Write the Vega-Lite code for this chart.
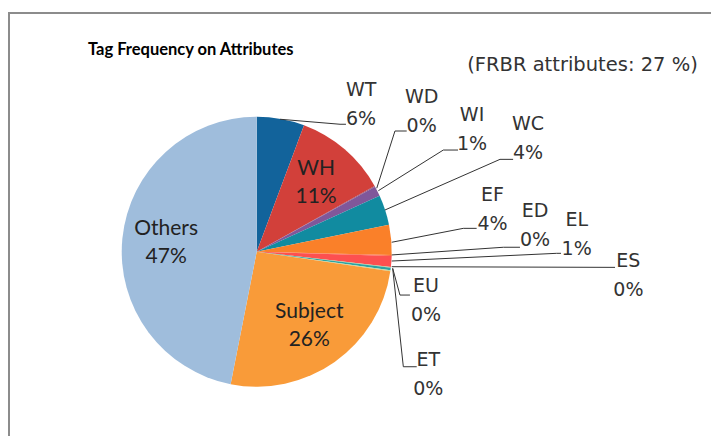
{
  "$schema": "https://vega.github.io/schema/vega-lite/v6.json",
  "autosize": "none",
  "width": 707,
  "height": 428,
  "padding": {"left": 9, "top": 13, "right": -5, "bottom": -5},
  "background": "white",
  "view": {"stroke": "#8c8c8c", "strokeWidth": 2},
  "title": {
    "text": "Tag Frequency on Attributes",
    "anchor": "start",
    "frame": "group",
    "font": "Lato",
    "fontWeight": "bold",
    "fontSize": 16.5,
    "color": "#000000",
    "offset": 0,
    "baseline": "alphabetic",
    "dx": 79,
    "dy": 58
  },
  "datasets": {
    "slices": [
      {"k": 1, "name": "WT", "value": 5.7},
      {"k": 2, "name": "WH", "value": 11.2},
      {"k": 3, "name": "WD", "value": 0.1},
      {"k": 4, "name": "WI", "value": 1.2},
      {"k": 5, "name": "WC", "value": 3.6},
      {"k": 6, "name": "EF", "value": 3.6},
      {"k": 7, "name": "ED", "value": 0.1},
      {"k": 8, "name": "EL", "value": 1.3},
      {"k": 9, "name": "ES", "value": 0.1},
      {"k": 10, "name": "EU", "value": 0.3},
      {"k": 11, "name": "ET", "value": 0.1},
      {"k": 12, "name": "Subject", "value": 25.8},
      {"k": 13, "name": "Others", "value": 46.9}
    ],
    "labels": [
      {"name": "WT", "lx": 77.3, "ly": 109.0},
      {"name": "WD", "lx": 122.2, "ly": 103.7},
      {"name": "WI", "lx": 159.5, "ly": 90.7},
      {"name": "WC", "lx": 201.0, "ly": 84.2},
      {"name": "EF", "lx": 174.7, "ly": 31.5},
      {"name": "ED", "lx": 206.1, "ly": 19.1},
      {"name": "EL", "lx": 237.0, "ly": 13.0},
      {"name": "ES", "lx": 275.3, "ly": -17.9},
      {"name": "EU", "lx": 125.4, "ly": -36.1},
      {"name": "ET", "lx": 127.1, "ly": -90.7}
    ],
    "leaders": [
      {"name": "WT", "step": 1, "lx": 17.3, "ly": 98.1},
      {"name": "WT", "step": 2, "lx": 61.7, "ly": 94.4},
      {"name": "WT", "step": 3, "lx": 66.1, "ly": 94.4},
      {"name": "WD", "step": 1, "lx": 88.9, "ly": 47.0},
      {"name": "WD", "step": 2, "lx": 102.4, "ly": 89.4},
      {"name": "WD", "step": 3, "lx": 111.1, "ly": 89.4},
      {"name": "WI", "step": 1, "lx": 90.1, "ly": 45.2},
      {"name": "WI", "step": 2, "lx": 138.2, "ly": 75.3},
      {"name": "WI", "step": 3, "lx": 149.1, "ly": 75.3},
      {"name": "WC", "step": 1, "lx": 95.0, "ly": 30.9},
      {"name": "WC", "step": 2, "lx": 180.2, "ly": 68.4},
      {"name": "WC", "step": 3, "lx": 189.9, "ly": 68.4},
      {"name": "EF", "step": 1, "lx": 100.0, "ly": 7.0},
      {"name": "EF", "step": 2, "lx": 153.0, "ly": 17.3},
      {"name": "EF", "step": 3, "lx": 162.9, "ly": 17.3},
      {"name": "ED", "step": 1, "lx": 100.0, "ly": -2.4},
      {"name": "ED", "step": 2, "lx": 182.7, "ly": 3.3},
      {"name": "ED", "step": 3, "lx": 195.0, "ly": 3.3},
      {"name": "EL", "step": 1, "lx": 100.0, "ly": -6.9},
      {"name": "EL", "step": 2, "lx": 222.2, "ly": -1.2},
      {"name": "EL", "step": 3, "lx": 225.4, "ly": -1.2},
      {"name": "ES", "step": 1, "lx": 100.0, "ly": -11.1},
      {"name": "ES", "step": 2, "lx": 265.4, "ly": -11.6},
      {"name": "EU", "step": 1, "lx": 100.7, "ly": -12.3},
      {"name": "EU", "step": 2, "lx": 106.1, "ly": -32.1},
      {"name": "EU", "step": 3, "lx": 113.5, "ly": -32.1},
      {"name": "ET", "step": 1, "lx": 100.7, "ly": -12.4},
      {"name": "ET", "step": 2, "lx": 108.6, "ly": -85.2},
      {"name": "ET", "step": 3, "lx": 118.5, "ly": -85.2}
    ]
  },
  "layer": [
    {
      "data": {"name": "slices"},
      "transform": [
        {"stack": "value", "groupby": [], "sort": [{"field": "k", "order": "ascending"}], "as": ["v0", "v1"]}
      ],
      "mark": {"type": "arc", "outerRadius": 135},
      "encoding": {
        "x": {"datum": 0, "type": "quantitative", "scale": {"domain": [-183.5, 340.2], "nice": false, "zero": false}, "axis": null},
        "y": {"datum": 0, "type": "quantitative", "scale": {"domain": [-140.2, 176.8], "nice": false, "zero": false}, "axis": null},
        "theta": {"field": "v0", "type": "quantitative", "scale": {"domain": [0, 100]}},
        "theta2": {"field": "v1"},
        "color": {
          "field": "name",
          "type": "nominal",
          "legend": null,
          "scale": {
            "domain": ["WT", "WH", "WD", "WI", "WC", "EF", "ED", "EL", "ES", "EU", "ET", "Subject", "Others"],
            "range": ["#12639b", "#d2403a", "#9a4a6a", "#80579a", "#118ba0", "#fa8029", "#fb6a3a", "#fd5050", "#b5ca92", "#2aa3a3", "#c3d69b", "#f99b39", "#9fbddc"]
          }
        }
      }
    },
    {
      "data": {"name": "slices"},
      "transform": [
        {"stack": "value", "groupby": [], "sort": [{"field": "k", "order": "ascending"}], "as": ["v0", "v1"]},
        {"filter": "indexof(['WH','Subject','Others'], datum.name) >= 0"},
        {"calculate": "(datum.v0 + datum.v1) / 2", "as": "mid"},
        {"calculate": "datum.name + '\\n' + format(datum.value / 100, '.0%')", "as": "lbl"}
      ],
      "mark": {"type": "text", "radius": 91, "dy": -14, "lineBreak": "\n", "font": "Lato", "fontSize": 21, "lineHeight": 28, "align": "center", "baseline": "middle", "color": "#222222"},
      "encoding": {
        "x": {"datum": 0, "type": "quantitative"},
        "y": {"datum": 0, "type": "quantitative"},
        "theta": {"field": "mid", "type": "quantitative"},
        "text": {"field": "lbl", "type": "nominal"}
      }
    },
    {
      "data": {"name": "leaders"},
      "mark": {"type": "line", "color": "#333333", "strokeWidth": 1, "interpolate": "linear"},
      "encoding": {
        "x": {"field": "lx", "type": "quantitative"},
        "y": {"field": "ly", "type": "quantitative"},
        "detail": {"field": "name", "type": "nominal"},
        "order": {"field": "step", "type": "quantitative"}
      }
    },
    {
      "data": {"name": "labels"},
      "transform": [
        {"lookup": "name", "from": {"data": {"name": "slices"}, "key": "name", "fields": ["value"]}},
        {"calculate": "datum.name + '\\n' + format(datum.value / 100, '.0%')", "as": "lbl"}
      ],
      "mark": {"type": "text", "dy": -14.5, "lineBreak": "\n", "font": "DejaVu Sans", "fontSize": 19, "lineHeight": 29, "align": "center", "baseline": "middle", "color": "#333333"},
      "encoding": {
        "x": {"field": "lx", "type": "quantitative"},
        "y": {"field": "ly", "type": "quantitative"},
        "text": {"field": "lbl", "type": "nominal"}
      }
    },
    {
      "data": {"values": [{"note": "(FRBR attributes: 27 %)", "lx": 241.3, "ly": 138.3}]},
      "mark": {"type": "text", "font": "DejaVu Sans", "fontSize": 19.5, "align": "center", "baseline": "middle", "color": "#333333"},
      "encoding": {
        "x": {"field": "lx", "type": "quantitative"},
        "y": {"field": "ly", "type": "quantitative"},
        "text": {"field": "note", "type": "nominal"}
      }
    }
  ]
}
